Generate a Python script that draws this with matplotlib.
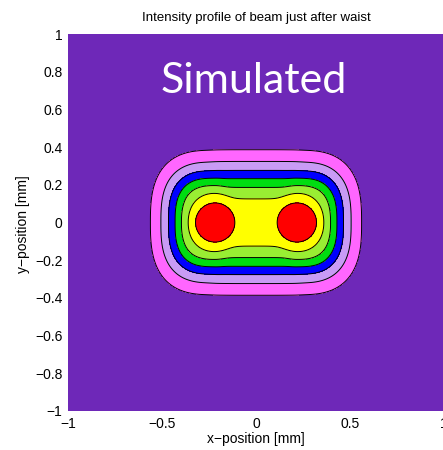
import numpy as np
import matplotlib
matplotlib.use("Agg")
import matplotlib.pyplot as plt

plt.rcParams["font.family"] = ["Liberation Sans", "DejaVu Sans"]

# beam model, values (mm)
lobe_x = [-0.218, 0.218]       # lobe centres on the x axis
lobe_width = [0.25, 0.28]      # half widths of one lobe in x and y
falloff_power = 2.3            # radial fall-off of one lobe
wing_shape = [2.0, 2.8]        # round at the peak, squarer outer wings
wing_radius = [0.45, 0.9]      # where the shape changes over
coherence = 0.19               # anti-phase coupling of the two lobes
lobe_cap = 0.82

spot_radius = 0.17             # round hot spots at the lobe centres
spot_power = 4.0

bridge_level = 0.83            # flat bridge of light between the lobes
bridge_width = [0.391, 0.302]  # x and y scale of the bridge
bridge_power = [6.0, 2.6]
blend = 30.0

levels = [0.125, 0.25, 0.375, 0.5, 0.625, 0.75, 0.875]
band_colors = ["#6e28b8", "#ff66ff", "#c99bf5", "#0000ff",
               "#00dd11", "#99ee33", "#ffff00", "#ff0000"]

x_ticks = [-1, -0.5, 0, 0.5, 1]
x_labels = ["\u22121", "\u22120.5", "0", "0.5", "1"]
y_ticks = [-1, -0.8, -0.6, -0.4, -0.2, 0, 0.2, 0.4, 0.6, 0.8, 1]
y_labels = ["\u22121", "\u22120.8", "\u22120.6", "\u22120.4", "\u22120.2",
            "0", "0.2", "0.4", "0.6", "0.8", "1"]


def lobe(x, y, cx):
    dx = x - cx
    u = np.abs(dx) / lobe_width[0]
    v = np.abs(y) / lobe_width[1]
    t = np.clip((np.hypot(u, v) - wing_radius[0]) / (wing_radius[1] - wing_radius[0]), 0, 1)
    outward = (dx * np.sign(cx)) > 0
    q = wing_shape[0] + (wing_shape[1] - wing_shape[0]) * t * t * (3 - 2 * t) * outward
    rho = (u ** q + v ** q) ** (1 / q)
    return np.exp(-rho ** falloff_power)


def bridge(x, y):
    hx = np.exp(-(np.abs(x) / bridge_width[0]) ** bridge_power[0])
    hy = np.exp(-(np.abs(y) / bridge_width[1]) ** bridge_power[1])
    return bridge_level * hx * hy


def spots(x, y):
    out = np.zeros_like(x)
    for cx in lobe_x:
        out = np.maximum(out, np.exp(-(np.hypot(x - cx, y) / spot_radius) ** spot_power))
    return out


x = np.linspace(-1, 1, 601)
y = np.linspace(-1, 1, 601)
X, Y = np.meshgrid(x, y)
f1 = lobe(X, Y, lobe_x[0])
f2 = lobe(X, Y, lobe_x[1])
lobes = np.minimum(f1 + f2 - 2 * coherence * np.sqrt(f1 * f2), lobe_cap)
intensity = (lobes ** blend + bridge(X, Y) ** blend + spots(X, Y) ** blend) ** (1 / blend)

fig = plt.figure(figsize=(4.43, 4.5), dpi=100)
ax = fig.add_axes([68 / 443, 39 / 450, 376 / 443, 377 / 450])

ax.contourf(X, Y, intensity, levels=[-1] + levels + [10], colors=band_colors)
ax.contour(X, Y, intensity, levels=levels, colors="k", linewidths=0.7)

ax.set_xlim(-1, 1)
ax.set_ylim(-1, 1)
ax.set_xticks(x_ticks)
ax.set_xticklabels(x_labels)
ax.set_yticks(y_ticks)
ax.set_yticklabels(y_labels)
ax.tick_params(length=0, labelsize=10, pad=4)
for s in ax.spines.values():
    s.set_visible(False)

ax.text(-0.011, 0.687, "Simulated", color="white", fontsize=31,
        family="Lato", ha="center", va="baseline")

fig.text(256 / 443, 1 - 18 / 450, "Intensity profile of beam just after waist",
         ha="center", va="center", fontsize=9.5)
fig.text(256 / 443, 1 - 439 / 450, "x\u2212position [mm]",
         ha="center", va="center", fontsize=10)
fig.text(23 / 443, 1 - 224 / 450, "y\u2212position [mm]",
         ha="center", va="center", rotation=90, fontsize=10)

fig.savefig("out.png", dpi=100)
